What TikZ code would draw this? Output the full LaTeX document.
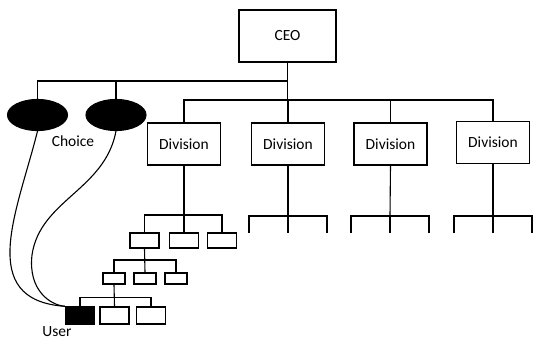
\documentclass[tikz,border=0pt]{standalone}
\usepackage{fontspec}
\setmainfont{Carlito}
\usetikzlibrary{shapes.geometric}
\begin{document}
\begin{tikzpicture}[x=1pt,y=-1pt,line width=1.1pt,
  lbl/.style={font=\fontsize{15.5}{18}\selectfont},
  bigbox/.style={draw,inner sep=0pt,lbl,minimum width=73pt,minimum height=42pt},
  sbox/.style={draw,inner sep=0pt,line width=1.4pt,minimum width=29pt,minimum height=15pt},
  tbox/.style={draw,inner sep=0pt,line width=1.4pt,minimum width=22pt,minimum height=11pt},
  ubox/.style={draw,inner sep=0pt,line width=1.4pt,minimum width=29pt,minimum height=17pt},
  blob/.style={ellipse,fill=black,draw=black,inner sep=0pt,minimum width=60pt,minimum height=31pt}]
\useasboundingbox (0,0) rectangle (533,341);
% top
\node[bigbox,minimum width=97pt,minimum height=52pt] (ceo) at (287.5,36) {CEO};
\node[bigbox] (d1) at (184,144) {Division};
\node[bigbox] (d2) at (288,144) {Division};
\node[bigbox] (d3) at (390.5,144) {Division};
\node[bigbox] (d4) at (493,142.5) {Division};
\node[blob] (e1) at (37.5,115) {};
\node[blob] (e2) at (116,115) {};
\node[lbl] (choice) at (73,141) {Choice};
% CEO connectors
\coordinate (k1) at (287.5,81);
\coordinate (k2) at (287.5,100);
\draw (ceo.south) -- (k2);
\draw (e1.north) |- (k1);
\draw (e2.north) -- (e2.north |- k1);
\draw (d1.north) |- (k2) -| (d4.north);
\draw (d2.north) -- (d2.north |- k2);
\draw (d3.north) -- (d3.north |- k2);
% open subtrees
\coordinate (d2b) at (288,216);
\coordinate (d3b) at (390,216);
\coordinate (d4b) at (493,216);
\foreach \d in {d2b,d3b,d4b}{
  \draw (\d) ++(-39,17) |- (\d) -| ++(39,17);
  \draw (\d) -- ++(0,17);
}
\draw (d2.south) -- (d2b);
\draw (d3.south) -- (d3b);
\draw (d4.south) -- (d4b);
% level 1
\node[sbox] (a1) at (144.5,240.5) {};
\node[sbox] (a2) at (184,240.5) {};
\node[sbox] (a3) at (222,240.5) {};
\coordinate (j1) at (184,215);
\draw (d1.south) -- (a2.north);
\draw (a1.north) |- (j1) -| (a3.north);
% level 2
\node[tbox] (b1) at (114,278.5) {};
\node[tbox] (b2) at (145,278.5) {};
\node[tbox] (b3) at (176,278.5) {};
\coordinate (j2) at (145,260);
\draw (a1.south) -- (b2.north);
\draw (b1.north) |- (j2) -| (b3.north);
% level 3
\node[ubox,fill=black] (u) at (80,315.5) {};
\node[ubox] (c2) at (114.5,315.5) {};
\node[ubox] (c3) at (151,315.5) {};
\coordinate (j3) at (114.5,297.5);
\draw (b1.south) -- (c2.north);
\draw (u.north) |- (j3) -| (c3.north);
\node[lbl] (user) at (57,332) {User};
% curves
\draw (e1.south) .. controls (18,210) and (-25,300) .. (u.north west);
\draw (e2.south) .. controls (105,190) and (40,200) .. (32,255) .. controls (28,290) and (50,305) .. (u.north west);
\end{tikzpicture}
\end{document}
